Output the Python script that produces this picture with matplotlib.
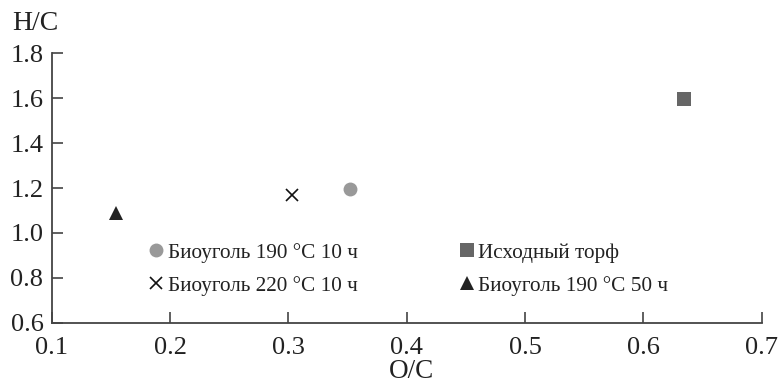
import matplotlib
matplotlib.use("Agg")
import matplotlib.pyplot as plt

labels = ["Биоуголь 190 °C 10 ч", "Биоуголь 220 °C 10 ч", "Исходный торф", "Биоуголь 190 °C 50 ч"]
oc = [0.352, 0.303, 0.634, 0.154]
hc = [1.196, 1.17, 1.597, 1.09]
markers = ["o", "x", "s", "^"]
colors = ["#999999", "#111111", "#666666", "#222222"]
sizes = [10, 9, 10, 10]

xticks = [0.1, 0.2, 0.3, 0.4, 0.5, 0.6, 0.7]
yticks = [0.6, 0.8, 1.0, 1.2, 1.4, 1.6, 1.8]

plt.rcParams['font.family'] = ['Liberation Serif', 'DejaVu Serif']

fig = plt.figure(figsize=(7.79, 3.87), dpi=100)
ax = fig.add_axes([0.0664, 0.1654, 0.9778 - 0.0664, 0.863 - 0.1654])

for x, y, m, c, s, l in zip(oc, hc, markers, colors, sizes, labels):
    if m == "x":
        ax.plot([x], [y], linestyle="none", marker=m, color=c, markersize=s, markeredgewidth=1.2, label=l)
    else:
        ax.plot([x], [y], linestyle="none", marker=m, color=c, markersize=s, markeredgewidth=0, label=l)

ax.set_xlim(0.1, 0.7)
ax.set_ylim(0.6, 1.8)
ax.set_xticks(xticks)
ax.set_yticks(yticks)
ax.set_xticklabels([f"{v:.1f}" for v in xticks])
ax.set_yticklabels([f"{v:.1f}" for v in yticks])

spc = "#444444"
for side in ["top", "right"]:
    ax.spines[side].set_visible(False)
for side in ["left", "bottom"]:
    ax.spines[side].set_color(spc)
    ax.spines[side].set_linewidth(1.3)
ax.tick_params(direction="in", length=8, width=1.2, color=spc, labelsize=19, labelcolor="#222222")
ax.tick_params(axis="x", pad=10)
ax.tick_params(axis="y", pad=6)

fig.text(12 / 779, 1 - 23 / 387, "H/C", fontsize=20, color="#222222", va="center", ha="left")
fig.text(411 / 779, 1 - 372 / 387, "O/C", fontsize=19.5, color="#222222", va="center", ha="center")

leg = ax.legend(loc="upper left", bbox_to_anchor=(149 / 779, 1 - 243 / 387), bbox_transform=fig.transFigure,
                ncol=2, frameon=False, fontsize=15.3, handlelength=0.7, handletextpad=0.2,
                columnspacing=4.75, labelspacing=0.6, borderpad=0, borderaxespad=0, labelcolor="#222222")

fig.savefig("out.png", dpi=100)
